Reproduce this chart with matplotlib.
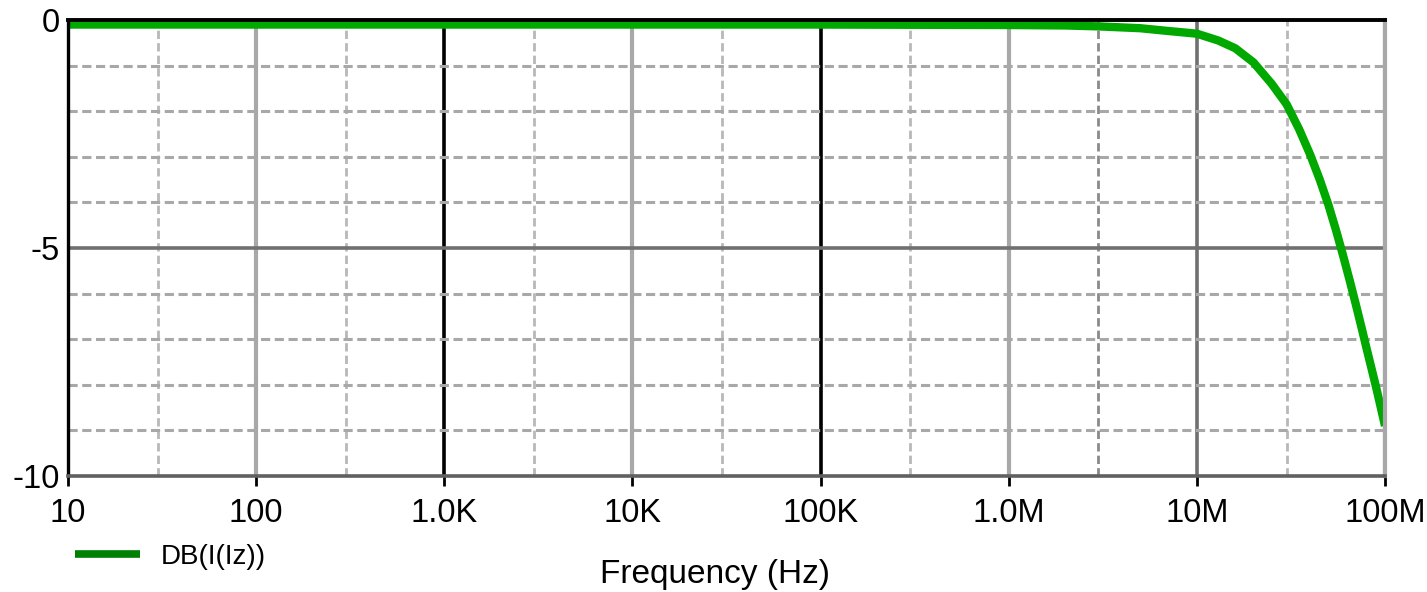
import matplotlib
matplotlib.use("Agg")
import matplotlib.pyplot as plt

plt.rcParams['font.family'] = ['Liberation Sans', 'DejaVu Sans']

# Frequency response of DB(I(Iz))
freq_hz = [10, 100, 1e3, 1e4, 1e5, 1e6, 2e6, 3e6, 5e6, 7e6, 10e6, 13e6, 16e6, 20e6,
           25e6, 30e6, 35e6, 40e6, 45e6, 50e6, 55e6, 60e6, 65e6, 70e6, 75e6,
           80e6, 85e6, 90e6, 95e6, 100e6]
gain_db = [-0.1, -0.1, -0.1, -0.1, -0.1, -0.11, -0.12, -0.14, -0.18, -0.24, -0.3,
           -0.45, -0.62, -0.93, -1.4, -1.85, -2.4, -2.95, -3.5, -4.05, -4.62, -5.18,
           -5.72, -6.24, -6.74, -7.22, -7.66, -8.08, -8.5, -8.9]

major_ticks = [10, 100, 1e3, 1e4, 1e5, 1e6, 1e7, 1e8]
major_labels = ["10", "100", "1.0K", "10K", "100K", "1.0M", "10M", "100M"]
minor_ticks = [30, 300, 3e3, 3e4, 3e5, 3e6, 3e7]
y_ticks = [0, -5, -10]
y_labels = ["0", "-5", "-10"]
series_label = "DB(I(Iz))"

W, H = 1427, 592
fig = plt.figure(figsize=(W / 100, H / 100), dpi=100)
ax = fig.add_axes([68 / W, (H - 476) / H, (1385 - 68) / W, (476 - 20) / H])
ax.set_xscale('log')
ax.set_xlim(10, 1e8)
ax.set_ylim(-10, 0)

# grid: decade lines, 3x lines, 1 dB lines
decade_style = {1e3: ('black', 2.6), 1e5: ('black', 2.6), 1e7: ('#707070', 2.6)}
for f in major_ticks[1:]:
    c, lw = decade_style.get(f, ('#a8a8a8', 3.0))
    ax.axvline(f, color=c, lw=lw, zorder=1)
for f in minor_ticks:
    c = '#8a8a8a' if f == 3e6 else '#b8b8b8'
    ax.axvline(f, color=c, lw=2.0, ls=(0, (3, 1.5)), zorder=1)
for y in range(-9, 0):
    if y == -5:
        ax.axhline(y, color='#707070', lw=2.6, zorder=1)
    else:
        ax.axhline(y, color='#a8a8a8', lw=2.2, ls=(0, (3, 1.5)), zorder=1)

ax.plot(freq_hz, gain_db, color='#00a800', lw=6.0, solid_capstyle='butt', zorder=3,
        label=series_label)

for s in ax.spines.values():
    s.set_zorder(4)
ax.spines['top'].set_color('black')
ax.spines['top'].set_linewidth(2.8)
ax.spines['left'].set_color('black')
ax.spines['left'].set_linewidth(2.4)
ax.spines['bottom'].set_color('#606060')
ax.spines['bottom'].set_linewidth(2.6)
ax.spines['right'].set_color('#a8a8a8')
ax.spines['right'].set_linewidth(3.0)

ax.set_xticks(major_ticks)
ax.set_xticklabels(major_labels)
ax.set_xticks([], minor=True)
ax.set_yticks(y_ticks)
ax.set_yticklabels(y_labels)
ax.tick_params(axis='x', length=7, width=2, color='black', direction='out',
               labelsize=23.5, pad=9)
ax.tick_params(axis='y', length=0, labelsize=23.5, pad=6)
ax.tick_params(axis='y', which='minor', length=0)

fig.text(715 / W, 1 - 574 / H, "Frequency (Hz)", ha='center', va='center', fontsize=24)

leg = ax.legend(loc='center left', bbox_to_anchor=(75 / W, 1 - 557 / H),
                bbox_transform=fig.transFigure, frameon=False, fontsize=20,
                handlelength=2.35, handletextpad=0.72, borderaxespad=0, borderpad=0)
for h in leg.get_lines():
    h.set_color('#008000')
    h.set_linewidth(5.5)

fig.savefig("out.png", dpi=100)
